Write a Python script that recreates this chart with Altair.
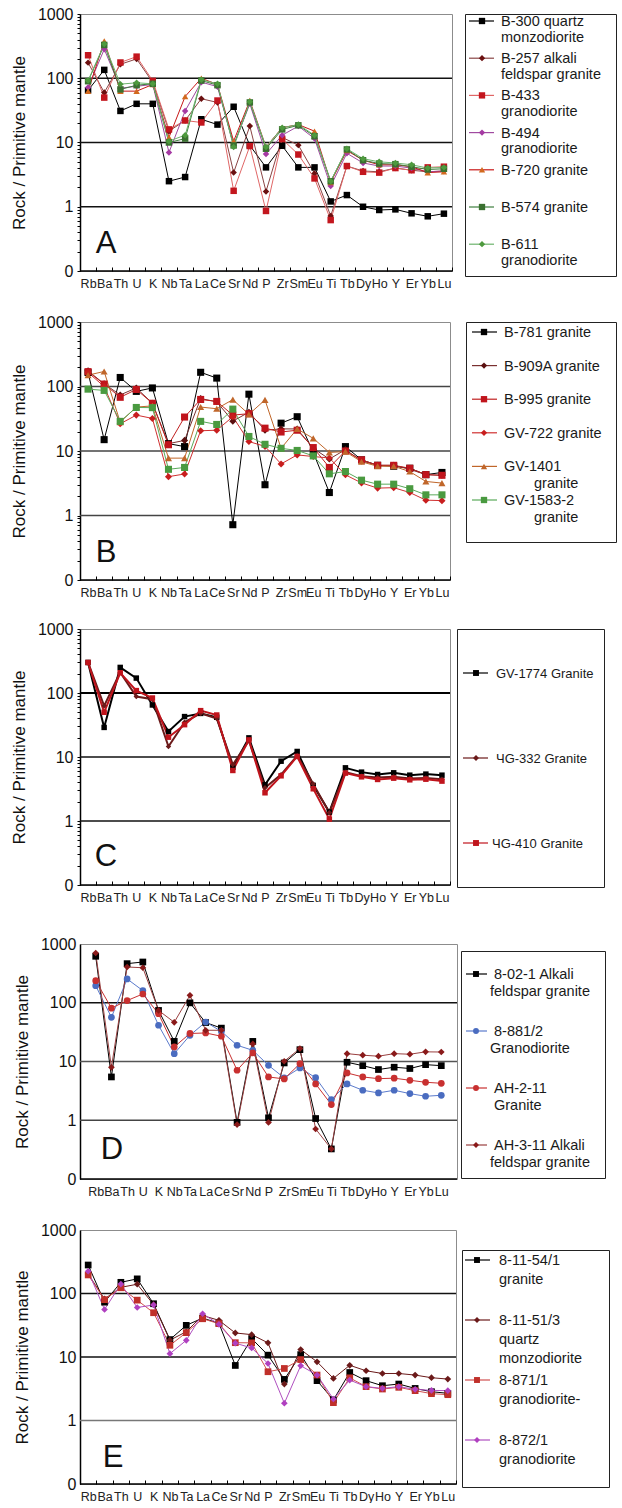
import altair as alt
import pandas as pd

FONT = "Liberation Sans"

ELEMENTS = ["Rb", "Ba", "Th", "U", "K", "Nb", "Ta", "La", "Ce", "Sr", "Nd", "P",
            "Zr", "Sm", "Eu", "Ti", "Tb", "Dy", "Ho", "Y", "Er", "Yb", "Lu"]
Y_LABEL_VALUES = [0.1, 1, 10, 100, 1000]
GRID_VALUES = [1, 10, 100]

# ---------------- Panel A ----------------
A_SERIES = ["B-300", "B-257", "B-433", "B-494", "B-720", "B-574", "B-611"]
A_LABELS = [["B-300 quartz", "monzodiorite"], ["B-257 alkali", "feldspar granite"],
            ["B-433", "granodiorite"], ["B-494", "granodiorite"], ["B-720 granite"],
            ["B-574 granite"], ["B-611", "granodiorite"]]
A_B300 = [65, 135, 31, 40, 40, 2.5, 2.9, 23, 19, 36, 9, 4.1, 8.9, 4.1, 4.1, 1.21, 1.52, 1.0, 0.89, 0.91, 0.79, 0.71, 0.78]
A_B257 = [175, 60, 165, 200, 86, 15, 22, 48, 42, 3.4, 18, 1.73, 12, 9.1, 3.3, 0.72, 4.3, 3.6, 3.5, 4.0, 3.7, 3.5, 3.6]
A_B433 = [228, 50, 176, 217, 91, 16, 22, 20.5, 45, 1.77, 8.8, 0.86, 11.3, 6.5, 2.76, 0.62, 4.3, 3.5, 3.4, 4.0, 3.7, 4.1, 4.2]
A_B494 = [72, 283, 70, 75, 80, 7, 31, 87, 74, 9, 40, 6.6, 13, 18, 11.5, 2.1, 6.8, 4.8, 4.3, 4.3, 4.0, 3.5, 3.6]
A_B720 = [63, 380, 63, 63, 80, 12, 52, 100, 80, 10.5, 45, 8.5, 17, 19, 15, 2.4, 7.5, 5.3, 4.5, 4.5, 4.2, 3.4, 3.5]
A_B574 = [90, 330, 67, 78, 82, 10, 11.5, 92, 78, 9, 42, 8, 16, 18.5, 12.5, 2.5, 7.8, 5.3, 4.7, 4.6, 4.2, 3.8, 3.9]
A_B611 = [92, 340, 81, 85, 82, 10.5, 13, 95, 82, 8.5, 43, 8.5, 17, 19, 13, 2.5, 8.0, 5.6, 5.0, 4.8, 4.5, 4.0, 4.1]
A_VALUES = [A_B300, A_B257, A_B433, A_B494, A_B720, A_B574, A_B611]

# ---------------- Panel B ----------------
B_SERIES = ["B-781", "B-909A", "B-995", "GV-722", "GV-1401", "GV-1583-2"]
B_LABELS = [["B-781 granite"], ["B-909A granite"], ["B-995 granite"], ["GV-722 granite"],
            ["GV-1401", "granite"], ["GV-1583-2", "granite"]]
B_B781 = [165, 15, 138, 84, 95, 13, 11.7, 166, 135, 0.72, 76, 3.0, 27, 34, 9.5, 2.27, 11.7, 7.3, 6.0, 5.8, 5.4, 4.3, 4.65]
B_B909A = [175, 110, 74, 95, 55, 13, 14.6, 65, 58, 29, 40, 21, 22, 22, 11, 7.5, 10.5, 7, 6, 6, 5.2, 4.3, 4.2]
B_B995 = [170, 109, 68, 90, 55, 12.5, 33.6, 63, 58.7, 36, 37.9, 22.6, 19.7, 21, 11.3, 5.56, 10, 7.3, 6.0, 6.0, 5.4, 4.3, 4.2]
B_GV722 = [165, 100, 26.4, 36, 32, 4.0, 4.4, 20.6, 21, 34, 14, 11.8, 6.3, 8.7, 8.2, 7.8, 4.27, 3.2, 2.66, 2.7, 2.27, 1.73, 1.7]
B_GV1401 = [150, 171, 28, 48, 50, 7.75, 7.75, 48, 45.2, 62.6, 37, 62, 11, 22, 15.7, 9.5, 9.8, 6.8, 5.8, 5.8, 4.8, 3.37, 3.18]
B_GV1583 = [91, 87, 28.8, 47.3, 47, 5.2, 5.56, 28.8, 25.8, 44.6, 16.8, 12.7, 11, 10.2, 8.4, 4.43, 4.8, 3.53, 3.06, 3.06, 2.6, 2.09, 2.09]
B_VALUES = [B_B781, B_B909A, B_B995, B_GV722, B_GV1401, B_GV1583]

# ---------------- Panel C ----------------
C_SERIES = ["GV-1774", "ЧG-332", "ЧG-410"]
C_LABELS = [["GV-1774 Granite"], ["ЧG-332 Granite"], ["ЧG-410 Granite"]]
C_GV1774 = [300, 29, 251, 171, 65, 25, 42.8, 48, 41.8, 6.9, 19.9, 3.68, 8.6, 12.2, 3.6, 1.38, 6.77, 5.8, 5.33, 5.66, 5.2, 5.4, 5.2]
C_CG332 = [300, 63, 210, 88, 80, 14.6, 35, 48, 40, 7.6, 18, 3.3, 5.3, 10.5, 3.8, 1.35, 5.8, 5.0, 4.8, 4.9, 4.6, 4.7, 4.5]
C_CG410 = [300, 50, 207, 109, 83.5, 20.4, 32, 53, 45.3, 6.16, 18.5, 2.76, 5.08, 10.2, 3.19, 1.07, 5.6, 4.9, 4.46, 4.67, 4.4, 4.5, 4.2]
C_VALUES = [C_GV1774, C_CG332, C_CG410]

# ---------------- Panel D ----------------
D_SERIES = ["8-02-1", "8-881/2", "AH-2-11", "AH-3-11"]
D_LABELS = [["8-02-1 Alkali", "feldspar granite"], ["8-881/2", "Granodiorite"],
            ["AH-2-11", "Granite"], ["AH-3-11 Alkali", "feldspar granite"]]
D_8021 = [618, 5.46, 463, 494, 74, 22, 99.6, 46, 37, 0.92, 22, 1.1, 9.45, 15.9, 1.07, 0.325, 9.7, 8.5, 7.3, 8.0, 7.6, 8.84, 8.5]
D_8881 = [195, 56.6, 254, 161, 41.4, 13.6, 27.9, 47, 32.5, 18.9, 15.5, 8.6, 5.25, 7.76, 5.3, 2.25, 4.15, 3.24, 2.92, 3.24, 2.84, 2.56, 2.66]
D_AH211 = [238, 81, 109, 141, 65, 17.7, 30, 30.6, 26.9, 7.1, 14, 5.46, 5.05, 9.2, 4.15, 1.85, 6.38, 5.46, 5.1, 5.2, 4.79, 4.43, 4.26]
D_AH311 = [703, 7.97, 406, 394, 74, 46.5, 134, 34, 34, 0.844, 19.9, 0.92, 10.1, 16.6, 0.71, 0.325, 13.6, 12.8, 12.3, 13.6, 13.3, 14.6, 14.5]
D_VALUES = [D_8021, D_8881, D_AH211, D_AH311]

# ---------------- Panel E ----------------
E_SERIES = ["8-11-54/1", "8-11-51/3", "8-871/1", "8-872/1"]
E_LABELS = [["8-11-54/1", "granite"], ["8-11-51/3", "quartz", "monzodiorite"],
            ["8-871/1", "granodiorite-"], ["8-872/1", "granodiorite"]]
E_5401 = [281, 73, 150, 170, 69, 18.8, 31.5, 41, 34, 7.36, 19.5, 10.7, 4.44, 10.9, 4.24, 2.11, 5.7, 4.24, 3.53, 3.75, 3.2, 2.84, 2.68]
E_5103 = [203, 82, 125, 140, 67, 18.4, 25, 45, 37.8, 23.9, 22.5, 16.7, 3.75, 13.1, 8.4, 4.6, 7.4, 6.07, 5.5, 5.5, 5.19, 4.72, 4.49]
E_8711 = [196, 80, 123, 78.6, 49.8, 15.3, 24.2, 40, 33.5, 16.8, 16.7, 5.86, 6.6, 9.1, 5.2, 1.91, 4.7, 3.41, 3.13, 3.33, 2.95, 2.65, 2.55]
E_8721 = [224, 56, 141, 60.2, 66, 11.3, 18.3, 48, 32.7, 16.5, 13.9, 7.9, 1.87, 7.3, 5.2, 2.18, 4.33, 3.41, 3.21, 3.41, 3.1, 2.98, 2.95]
E_VALUES = [E_5401, E_5103, E_8711, E_8721]

# styles: (line colour, marker colour, marker shape)
STYLES = {
    "B-300": ("#000000", "#000000", "square"),
    "B-257": ("#8a4444", "#6b1010", "diamond"),
    "B-433": ("#e06666", "#c3161e", "square"),
    "B-494": ("#a04aa0", "#a53aa3", "diamond"),
    "B-720": ("#c81818", "#d2691e", "triangle-up"),
    "B-574": ("#3f7f3f", "#3a7030", "square"),
    "B-611": ("#6db36d", "#4e9a3e", "diamond"),
    "B-781": ("#000000", "#000000", "square"),
    "B-909A": ("#7a3030", "#5a1010", "diamond"),
    "B-995": ("#c02020", "#c0141c", "square"),
    "GV-722": ("#d03030", "#c81e1e", "diamond"),
    "GV-1401": ("#c0662a", "#c0662a", "triangle-up"),
    "GV-1583-2": ("#5aaa5a", "#4a9a40", "square"),
    "GV-1774": ("#000000", "#000000", "square"),
    "ЧG-332": ("#6b1a1a", "#6b1a1a", "diamond"),
    "ЧG-410": ("#c0141c", "#c0141c", "square"),
    "8-02-1": ("#000000", "#000000", "square"),
    "8-881/2": ("#5a7acc", "#4a6cc0", "circle"),
    "AH-2-11": ("#c83030", "#c83030", "circle"),
    "AH-3-11": ("#9a4040", "#8a1a1a", "diamond"),
    "8-11-54/1": ("#000000", "#000000", "square"),
    "8-11-51/3": ("#6b1a1a", "#6b1a1a", "diamond"),
    "8-871/1": ("#d05050", "#c0302a", "square"),
    "8-872/1": ("#b050c0", "#b040c0", "diamond"),
}


def long_table(series, values):
    rows = []
    for name, vals in zip(series, values):
        lc, mc, shp = STYLES[name]
        for i, (el, v) in enumerate(zip(ELEMENTS, vals)):
            rows.append(dict(series=name, element=el, idx=i, value=v, lc=lc, mc=mc, shape=shp))
    return pd.DataFrame(rows)


def make_plot(series, values, w, h, letter, lpos, grid_colors, grid_widths,
              band=True, minor=True, lw=1.0, msize=40):
    df = long_table(series, values)
    if minor:
        yvals = [m * 10 ** e for e in (-1, 0, 1, 2) for m in range(1, 10)] + [1000]
    else:
        yvals = Y_LABEL_VALUES
    yaxis = alt.Axis(
        title="Rock / Primitive mantle", values=yvals,
        labelExpr="datum.value == 0.1 ? '0' : (indexof([1,10,100,1000], datum.value) >= 0 ? '' + datum.value : '')",
        grid=False, domain=True, domainColor="#000", domainWidth=1.5,
        ticks=minor, tickColor="#000", tickSize=3, tickWidth=1,
        labelFont=FONT, labelFontSize=16, labelColor="#111", labelPadding=4,
        labelOverlap=False,
        titleFont=FONT, titleFontSize=17, titleFontWeight="normal", titleColor="#111",
        titlePadding=9,
    )
    yscale = alt.Scale(type="log", domain=[0.1, 1000])
    Y = alt.Y("value:Q", scale=yscale, axis=yaxis)

    if band:
        xscale = alt.Scale(type="band", domain=ELEMENTS, paddingInner=0, paddingOuter=0)
        xaxis = alt.Axis(title=None, labelAngle=0, labelFont=FONT, labelFontSize=12.5,
                         labelColor="#222", domain=False, ticks=True, tickBand="extent",
                         tickSize=4, tickColor="#000", offset=-4, labelPadding=6,
                         labelOverlap=False, grid=False)
    else:
        xscale = alt.Scale(type="point", domain=ELEMENTS, padding=1)
        xaxis = alt.Axis(title=None, labelAngle=0, labelFont=FONT, labelFontSize=12.5,
                         labelColor="#222", domain=False, ticks=False, labelPadding=6,
                         labelOverlap=False, grid=False)
    X = alt.X("element:N", scale=xscale, axis=xaxis, sort=ELEMENTS)

    grid_layers = []
    for gv, gc, gw in zip(GRID_VALUES, grid_colors, grid_widths):
        grid_layers.append(
            alt.Chart(pd.DataFrame({"value": [gv]})).mark_rule(color=gc, strokeWidth=gw).encode(y=Y)
        )
    bottom = alt.Chart(pd.DataFrame({"value": [0.1]})).mark_rule(color="#000", strokeWidth=1.5).encode(y=Y)

    base = alt.Chart(df)
    lines = base.mark_line(strokeWidth=lw).encode(
        x=X, y=Y, stroke=alt.Stroke("lc:N", scale=None), detail="series:N", order="idx:Q"
    )
    pts = base.mark_point(filled=True, opacity=1, size=msize).encode(
        x=X, y=Y, fill=alt.Fill("mc:N", scale=None), shape=alt.Shape("shape:N", scale=None)
    )
    txt = alt.Chart(pd.DataFrame({"t": [letter]})).mark_text(
        font=FONT, fontSize=31, align="center", baseline="middle", color="#111"
    ).encode(text="t:N", x=alt.value(lpos[0]), y=alt.value(lpos[1]))

    return alt.layer(*grid_layers, bottom, lines, pts, txt).properties(
        width=w, height=h, view=alt.ViewBackground(stroke="#8c8c8c", strokeWidth=1)
    )


def make_legend(series, labels, W, H, first, step, lh, line_x, mark_x, text_x, fs,
                msize=40, indents=None, dy1=1):
    srows, trows = [], []
    for i, (name, lines) in enumerate(zip(series, labels)):
        lc, mc, shp = STYLES[name]
        y0 = first + i * step
        srows.append(dict(x0=line_x[0], x1=line_x[1], xm=mark_x, y=y0, lc=lc, mc=mc, shape=shp))
        for j, t in enumerate(lines):
            ind = 0
            if indents is not None:
                ind = indents[i][j]
            trows.append(dict(x=text_x + ind, y=y0 + dy1 + j * lh, t=t))
    sdf = pd.DataFrame(srows)
    tdf = pd.DataFrame(trows)
    xs = alt.Scale(domain=[0, W], nice=False, zero=False)
    ys = alt.Scale(domain=[H, 0], nice=False, zero=False)
    rules = alt.Chart(sdf).mark_rule(strokeWidth=1.2).encode(
        x=alt.X("x0:Q", scale=xs, axis=None), x2="x1:Q",
        y=alt.Y("y:Q", scale=ys, axis=None), stroke=alt.Stroke("lc:N", scale=None)
    )
    marks = alt.Chart(sdf).mark_point(filled=True, opacity=1, size=msize).encode(
        x=alt.X("xm:Q", scale=xs, axis=None), y=alt.Y("y:Q", scale=ys, axis=None),
        fill=alt.Fill("mc:N", scale=None), shape=alt.Shape("shape:N", scale=None)
    )
    texts = alt.Chart(tdf).mark_text(align="left", baseline="middle", font=FONT,
                                     fontSize=fs, color="#1a1a1a").encode(
        x=alt.X("x:Q", scale=xs, axis=None), y=alt.Y("y:Q", scale=ys, axis=None), text="t:N"
    )
    return alt.layer(rules, marks, texts).properties(
        width=W, height=H, view=alt.ViewBackground(stroke="#222", strokeWidth=1)
    )


def spacer(h):
    return alt.Chart(pd.DataFrame({"a": [0]})).mark_point(opacity=0, size=0).encode(
        x=alt.value(0), y=alt.value(0)
    ).properties(width=10, height=h, view=alt.ViewBackground(stroke=None))


plotA = make_plot(A_SERIES, A_VALUES, 372, 257, "A", (26, 230),
                  ["#111", "#111", "#111"], [1.3, 1.3, 1.3], msize=42)
plotB = make_plot(B_SERIES, B_VALUES, 370, 258, "B", (26, 231),
                  ["#444", "#444", "#444"], [1.3, 1.3, 1.3], msize=50)
plotC = make_plot(C_SERIES, C_VALUES, 370, 256, "C", (26, 228),
                  ["#111", "#111", "#000"], [1.3, 1.3, 2.2], lw=2.0, msize=30)
plotD = make_plot(D_SERIES, D_VALUES, 377, 235, "D", (32, 206),
                  ["#444", "#555", "#111"], [1.3, 1.3, 1.3], band=False, minor=False, msize=45)
plotE = make_plot(E_SERIES, E_VALUES, 376, 254, "E", (33, 228),
                  ["#777", "#111", "#111"], [1.3, 1.3, 1.3], minor=False, msize=45)

legA = make_legend(A_SERIES, A_LABELS, 151, 262, 7, 37.2, 15.5, (4, 29), 17, 36, 14.5)
legB = make_legend(B_SERIES, B_LABELS, 150, 220, 10, 33.6, 17, (6, 31), 18, 38, 14.5,
                   indents=[[0], [0], [0], [0], [0, 30], [0, 30]])
legC = make_legend(C_SERIES, C_LABELS, 147, 258, 44, 85, 16, (6, 31), 19, 39, 13,
                   msize=35, indents=[[0], [0], [-4]])
legD = make_legend(D_SERIES, D_LABELS, 144, 227, 23, 57, 17, (5, 26), 15, 33, 14.5,
                   msize=35, indents=[[0, -4], [0, -4], [0, 0], [0, -4]])
legE = make_legend(E_SERIES, E_LABELS, 147, 237, 10, 60, 19, (3, 28), 15, 37, 14.5, msize=35)

rowA = alt.hconcat(plotA, alt.vconcat(legA, spacer(36), spacing=0), spacing=13, bounds="flush")
rowB = alt.hconcat(plotB, alt.vconcat(legB, spacer(77), spacing=0), spacing=16, bounds="flush")
rowC = alt.hconcat(plotC, alt.vconcat(legC, spacer(47), spacing=0), spacing=7, bounds="flush")
rowD = alt.hconcat(plotD, alt.vconcat(spacer(6), legD, spacer(42), spacing=0), spacing=4, bounds="flush")
rowE = alt.hconcat(plotE, alt.vconcat(spacer(19), legE, spacing=0), spacing=6, bounds="flush")

chart = alt.vconcat(rowA, rowB, rowC, rowD, rowE, spacing=0).properties(
    padding={"left": 9, "top": 5, "right": 0, "bottom": 0}
).configure(font=FONT).configure_concat(spacing=0)

chart.save("out.html", embed_options={"renderer": "svg", "actions": False})
